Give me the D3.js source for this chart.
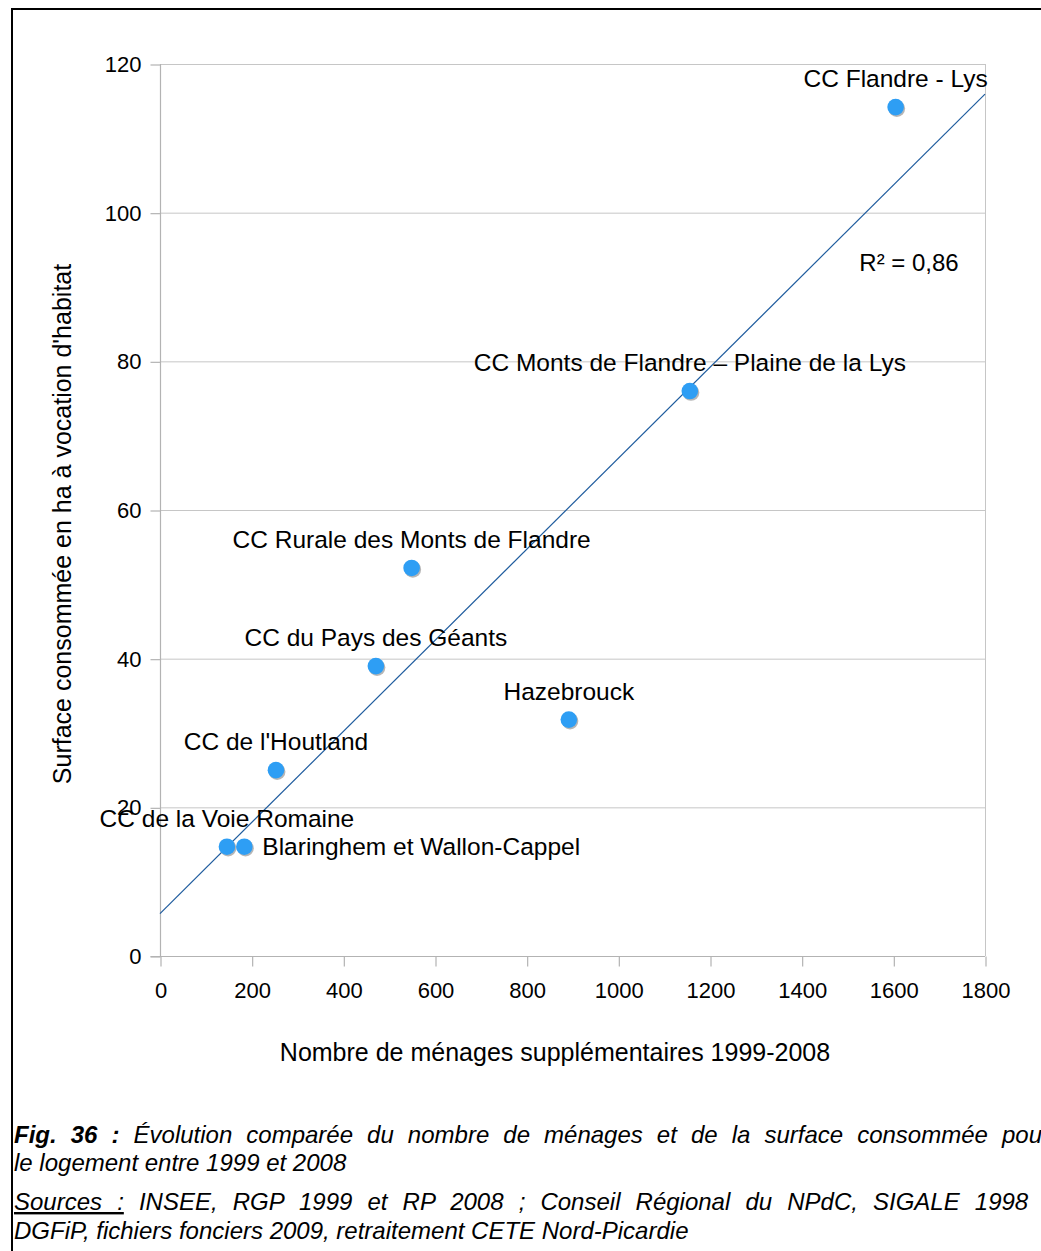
<!DOCTYPE html>
<html>
<head>
<meta charset="utf-8">
<script src="https://cdn.jsdelivr.net/npm/d3@7"></script>
<style>
  html, body { margin: 0; padding: 0; background: #fff; }
  svg { display: block; font-family: "Liberation Sans", Arial, sans-serif; }
</style>
</head>
<body>
<svg id="chart" width="1041" height="1251"></svg>
<script>
// Communautés de communes: extra households vs. land consumed for housing
const names = [
  "CC Flandre - Lys",
  "CC Monts de Flandre – Plaine de la Lys",
  "CC Rurale des Monts de Flandre",
  "CC du Pays des Géants",
  "Hazebrouck",
  "CC de l'Houtland",
  "CC de la Voie Romaine",
  "Blaringhem et Wallon-Cappel"
];
const households = [1605, 1156, 549, 471, 892, 253, 146, 184];
const surfaceHa  = [114.2, 76.0, 52.2, 39.0, 31.8, 25.0, 14.7, 14.7];
const labelSide  = ["top", "top", "top", "top", "top", "top", "top", "right"];

const xTicks = [0, 200, 400, 600, 800, 1000, 1200, 1400, 1600, 1800];
const yTicks = [0, 20, 40, 60, 80, 100, 120];

const xTitle = "Nombre de ménages supplémentaires 1999-2008";
const yTitle = "Surface consommée en ha à vocation d'habitat";

const svg = d3.select("#chart");
const plot = { left: 160, right: 985, top: 64, bottom: 956 };

const x = d3.scaleLinear().domain([0, 1800]).range([plot.left, plot.right]);
const y = d3.scaleLinear().domain([0, 120]).range([plot.bottom, plot.top]);

// outer frame (runs off the right and bottom edges)
svg.append("rect")
  .attr("x", 12).attr("y", 9)
  .attr("width", 1200).attr("height", 1400)
  .attr("fill", "none").attr("stroke", "#000").attr("stroke-width", 2);

// horizontal gridlines
svg.append("g")
  .selectAll("line")
  .data(yTicks.filter(d => d > 0))
  .join("line")
  .attr("x1", plot.left).attr("x2", plot.right)
  .attr("y1", d => y(d) + 0.5).attr("y2", d => y(d) + 0.5)
  .attr("stroke", "#c6c6c6").attr("stroke-width", 1);

// right edge of the plot area
svg.append("line")
  .attr("x1", plot.right + 0.5).attr("x2", plot.right + 0.5)
  .attr("y1", plot.top).attr("y2", plot.bottom)
  .attr("stroke", "#c6c6c6").attr("stroke-width", 1);

// axes
const xAxis = svg.append("g")
  .attr("transform", `translate(0.5,${plot.bottom + 0.5})`)
  .call(d3.axisBottom(x).tickValues(xTicks).tickSize(10).tickPadding(16).tickFormat(d3.format("d")));
const yAxis = svg.append("g")
  .attr("transform", `translate(${plot.left + 0.5},0.5)`)
  .call(d3.axisLeft(y).tickValues(yTicks).tickSize(10).tickPadding(9).tickFormat(d3.format("d")));

[xAxis, yAxis].forEach(g => {
  g.select(".domain").attr("stroke", "#b3b3b3").attr("stroke-width", 1.2);
  g.selectAll(".tick line").attr("stroke", "#b3b3b3").attr("stroke-width", 1.2);
  g.selectAll(".tick text")
    .attr("fill", "#000")
    .style("font-family", "'Liberation Sans', Arial, sans-serif")
    .style("font-size", "22px");
});
// plain axis lines (the x line reaches left to the y tick length)
xAxis.select(".domain").attr("d", `M${plot.left - 10},0H${plot.right - 0.5}`);
yAxis.select(".domain").attr("d", `M0,${plot.bottom}V${plot.top - 0.5}`);

// least-squares trend line and R²
const n = households.length;
const mx = d3.mean(households), my = d3.mean(surfaceHa);
let sxy = 0, sxx = 0, syy = 0;
for (let i = 0; i < n; i++) {
  const dx = households[i] - mx, dy = surfaceHa[i] - my;
  sxy += dx * dy; sxx += dx * dx; syy += dy * dy;
}
const slope = sxy / sxx;
const intercept = my - slope * mx;
const r2 = (sxy * sxy) / (sxx * syy);

svg.append("line")
  .attr("x1", x(0)).attr("y1", y(intercept))
  .attr("x2", x(1800)).attr("y2", y(intercept + slope * 1800))
  .attr("stroke", "#1f5c9e").attr("stroke-width", 1.2);

svg.append("text")
  .attr("x", 909).attr("y", 271)
  .attr("text-anchor", "middle")
  .style("font-size", "24px")
  .text("R² = " + d3.format(".2f")(r2).replace(".", ","));

// points with a soft drop shadow
const pts = d3.range(n).map(i => ({
  name: names[i], hx: households[i], sy: surfaceHa[i], side: labelSide[i]
}));

svg.append("g")
  .selectAll("circle")
  .data(pts)
  .join("circle")
  .attr("cx", d => x(d.hx) + 1.2).attr("cy", d => y(d.sy) + 1.5)
  .attr("r", 8.3)
  .attr("fill", "#7a7a7a").attr("opacity", 0.55);

svg.append("g")
  .selectAll("circle")
  .data(pts)
  .join("circle")
  .attr("cx", d => x(d.hx)).attr("cy", d => y(d.sy))
  .attr("r", 8.3)
  .attr("fill", "#2e9ef4");

// point labels
svg.append("g")
  .selectAll("text")
  .data(pts)
  .join("text")
  .attr("x", d => d.side === "right" ? x(d.hx) + 18 : x(d.hx))
  .attr("y", d => d.side === "right" ? y(d.sy) + 8 : y(d.sy) - 20)
  .attr("text-anchor", d => d.side === "right" ? "start" : "middle")
  .style("font-size", "24.5px")
  .attr("fill", "#000")
  .text(d => d.name);

// axis titles
svg.append("text")
  .attr("x", 555).attr("y", 1061)
  .attr("text-anchor", "middle")
  .style("font-size", "25px")
  .text(xTitle);

svg.append("text")
  .attr("transform", "translate(71,524) rotate(-90)")
  .attr("text-anchor", "middle")
  .style("font-size", "25px")
  .text(yTitle);

// figure caption: justified paragraphs, box wider than the page
const capLeft = 14, capRight = 1050;
const cap = svg.append("g")
  .style("font-size", "24px")
  .style("font-style", "italic")
  .attr("fill", "#000");

function justify(textSel) {
  const node = textSel.node();
  const natural = node.getComputedTextLength();
  const spaces = (node.textContent.match(/ /g) || []).length;
  if (spaces > 0) {
    textSel.style("word-spacing", ((capRight - capLeft - natural) / spaces) + "px");
  }
}

const l1 = cap.append("text").attr("x", capLeft).attr("y", 1143);
l1.append("tspan").style("font-weight", "bold").text("Fig. 36 :");
l1.append("tspan").text(" Évolution comparée du nombre de ménages et de la surface consommée pour");
justify(l1);

cap.append("text").attr("x", capLeft).attr("y", 1171)
  .text("le logement entre 1999 et 2008");

const l3 = cap.append("text").attr("x", capLeft).attr("y", 1210);
l3.append("tspan").style("text-decoration", "underline").text("Sources :");
l3.append("tspan").text(" INSEE, RGP 1999 et RP 2008 ; Conseil Régional du NPdC, SIGALE 1998 ;");
justify(l3);

cap.append("text").attr("x", capLeft).attr("y", 1239)
  .text("DGFiP, fichiers fonciers 2009, retraitement CETE Nord-Picardie");
</script>
</body>
</html>
